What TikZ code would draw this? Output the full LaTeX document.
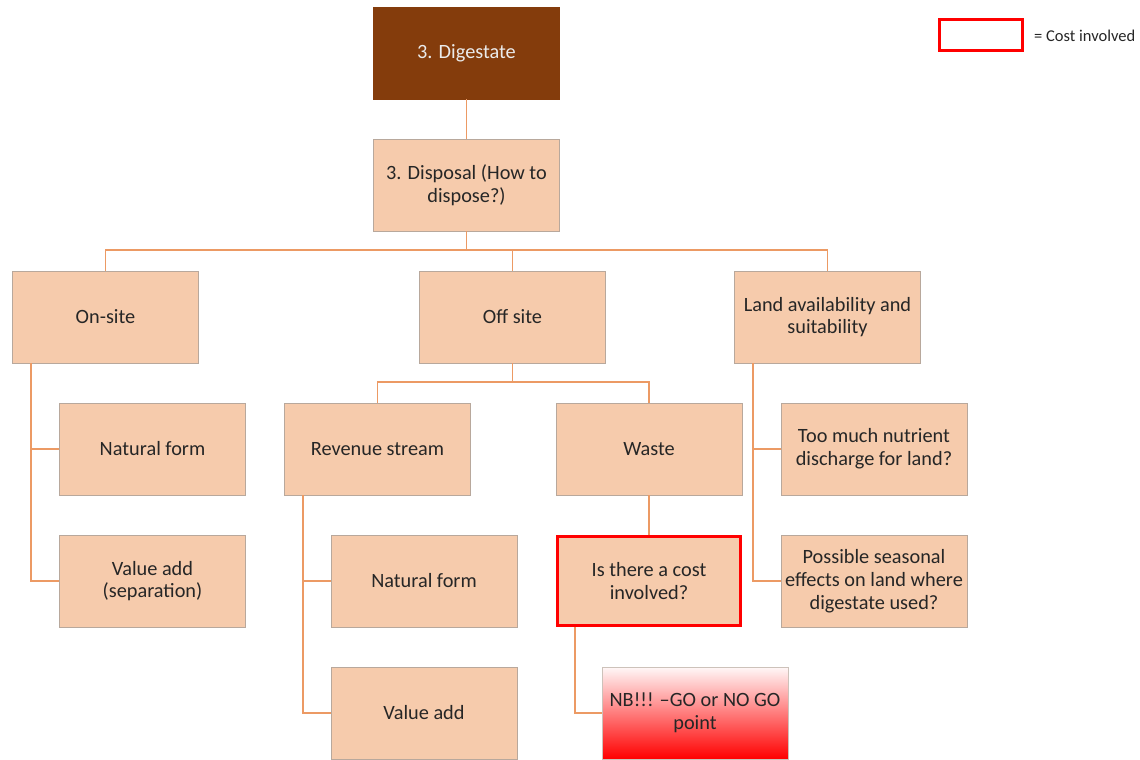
\documentclass[tikz,border=0pt]{standalone}
\usepackage{fontspec}
\setmainfont{Carlito}
\definecolor{peach}{HTML}{F6CBAC}
\definecolor{brownbox}{HTML}{843C0C}
\definecolor{conn}{HTML}{EC9A64}
\definecolor{edgegray}{HTML}{B8A89C}
\begin{document}
\begin{tikzpicture}[x=1pt,y=-1pt,
  box/.style={draw=edgegray, line width=0.6pt, fill=peach, minimum width=186pt, minimum height=92pt, align=center, inner sep=2pt, font=\fontsize{20.3}{22.8}\selectfont, text=black!85},
  costbox/.style={box, draw=red, line width=3.4pt, minimum width=182.6pt, minimum height=88.6pt},
  link/.style={draw=conn, line width=1.3pt}]
\useasboundingbox (0,0) rectangle (1140,760);
\node[box, fill=brownbox, draw=brownbox, text=white!92!black] (dig) at (466.5,53) {3. Digestate};
\node[box] (disp) at (466.5,185) {3. Disposal (How to\\dispose?)};
\node[box] (on) at (105.5,317) {On-site};
\node[box] (off) at (512.5,317) {Off site};
\node[box] (land) at (827.5,317) {Land availability and\\suitability};
\node[box] (nf1) at (152.5,449) {Natural form};
\node[box] (va1) at (152.5,581) {Value add\\(separation)};
\node[box] (rev) at (377.5,449) {Revenue stream};
\node[box] (waste) at (649,449) {Waste};
\node[box] (nf2) at (424,581) {Natural form};
\node[box] (va2) at (424,713) {Value add};
\node[costbox] (cost) at (649,581) {Is there a cost\\involved?};
\node[box, draw=edgegray!70, shade, top color=red!3, bottom color=red, shading angle=0] (nb) at (695,713) {NB!!! --GO or NO GO\\point};
\node[box] (tm) at (874,449) {Too much nutrient\\discharge for land?};
\node[box] (ps) at (874,581) {Possible seasonal\\effects on land where\\digestate used?};
\node[draw=red, line width=3pt, fill=white, minimum width=83pt, minimum height=31pt, inner sep=0pt] (leg) at (981,35.5) {};
\node[anchor=west, font=\fontsize{16.5}{19}\selectfont, text=black!85, inner sep=0pt] (legt) at (1034,36) {= Cost involved};
% connectors
\draw[link] (dig.south) -- (disp.north);
\coordinate (bus) at (466.5,250);
\draw[link] (disp.south) -- (bus);
\draw[link] (on.north) |- (bus) -| (land.north);
\draw[link] (off.north) -- (off.north |- bus);
\coordinate (onx) at (31,0);
\draw[link] (onx |- on.south) |- (nf1.west);
\draw[link] (onx |- nf1.west) |- (va1.west);
\coordinate (offbus) at (512.5,382);
\draw[link] (off.south) -- (offbus);
\draw[link] (rev.north) |- (offbus) -| (waste.north);
\coordinate (revx) at (303,0);
\draw[link] (revx |- rev.south) |- (nf2.west);
\draw[link] (revx |- nf2.west) |- (va2.west);
\draw[link] (waste.south) -- (cost.north);
\coordinate (costx) at (575,0);
\draw[link] (costx |- cost.south) |- (nb.west);
\coordinate (landx) at (753,0);
\draw[link] (landx |- land.south) |- (tm.west);
\draw[link] (landx |- tm.west) |- (ps.west);
\end{tikzpicture}
\end{document}
